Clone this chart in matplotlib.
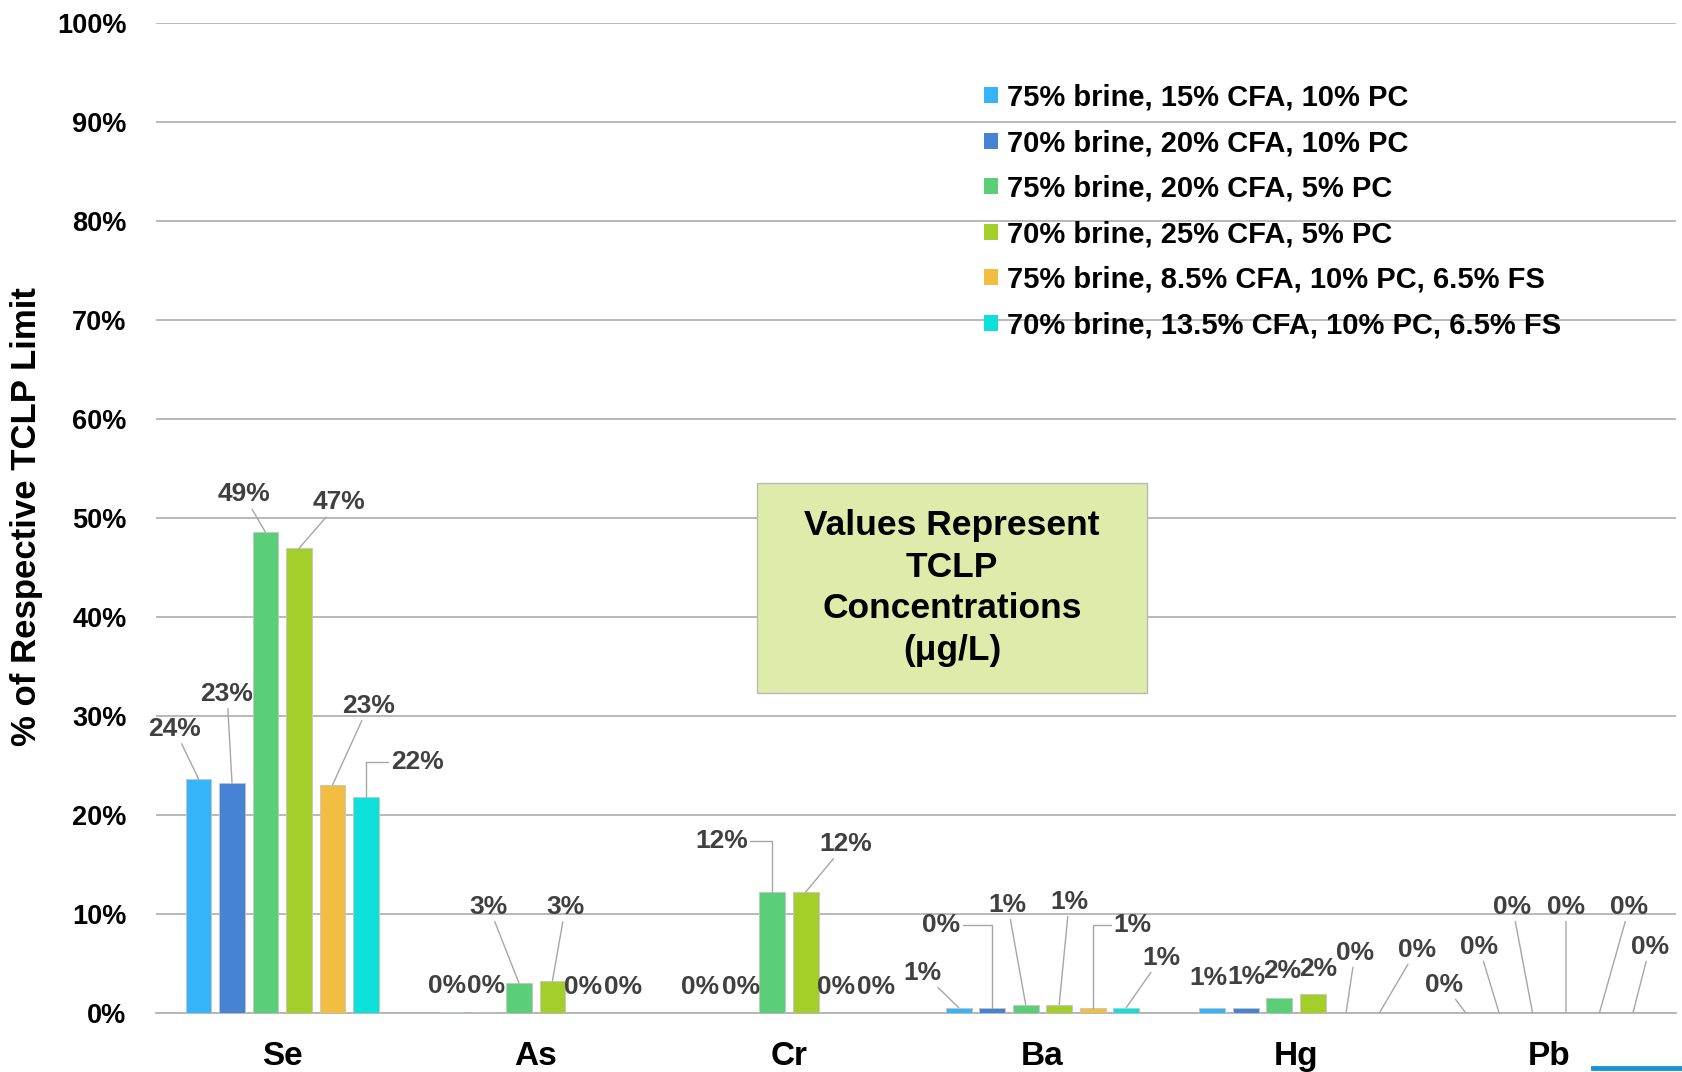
import math
import matplotlib
matplotlib.use("Agg")
import matplotlib.pyplot as plt
from matplotlib.patches import Rectangle
from matplotlib.lines import Line2D

# ---------------- data ----------------
categories = ["Se", "As", "Cr", "Ba", "Hg", "Pb"]
series_names = [
    "75% brine, 15% CFA, 10% PC",
    "70% brine, 20% CFA, 10% PC",
    "75% brine, 20% CFA, 5% PC",
    "70% brine, 25% CFA, 5% PC",
    "75% brine, 8.5% CFA, 10% PC, 6.5% FS",
    "70% brine, 13.5% CFA, 10% PC, 6.5% FS",
]
mix_1 = [23.6, 0.1, 0.0, 0.5, 0.5, 0.0]
mix_2 = [23.2, 0.1, 0.0, 0.45, 0.5, 0.0]
mix_3 = [48.5, 3.0, 12.2, 0.8, 1.5, 0.0]
mix_4 = [46.9, 3.2, 12.2, 0.8, 1.9, 0.0]
mix_5 = [23.0, 0.0, 0.0, 0.5, 0.0, 0.0]
mix_6 = [21.8, 0.0, 0.0, 0.5, 0.0, 0.0]
series_values = [mix_1, mix_2, mix_3, mix_4, mix_5, mix_6]
y_ticks = [0, 10, 20, 30, 40, 50, 60, 70, 80, 90, 100]
note_text = "Values Represent\nTCLP\nConcentrations\n(μg/L)"
y_title = "% of Respective TCLP Limit"

# ---------------- style ----------------
colors = ["#35B4F9", "#4683D4", "#5BCF78", "#A4CE2A", "#F2BE42", "#0CE0D8"]
FONT = "Liberation Sans"
plt.rcParams["font.family"] = [FONT, "DejaVu Sans"]

# label offsets in pixels (dx, dy) relative to each bar top, per series then category
label_offsets = [
    [(-24, 50), (-5, 26), (-5, 26), (-36, 35), (-4, 30), (-21, 28)],
    [(-5, 89), (1, 26), (2, 26), (-51, 83), (1, 31), (-20, 66)],
    [(-22, 38), (-30, 76), (-51, 51), (-18, 100), (3, 27), (-20, 106)],
    [(40, 46), (13, 74), (40, 48), (10, 103), (6, 25), (0, 106)],
    [(36, 79), (-3, 26), (-3, 26), (40, 83), (9, 60), (30, 106)],
    [(51, 35), (4, 26), (3, 26), (35, 50), (37, 63), (17, 66)],
]
elbows = {(5, 0), (2, 2), (1, 3), (4, 3)}

fig = plt.figure(figsize=(16.82, 10.72), dpi=100)
ax = fig.add_axes([0.0925, 0.0554, 0.9039, 0.9236])
ax.set_xlim(-0.5, len(categories) - 0.5)
ax.set_ylim(0, 100)

slot = 0.1322
width = 0.102
n = len(series_values)
for i, vals in enumerate(series_values):
    xs = [c + (i - (n - 1) / 2) * slot for c in range(len(categories))]
    ax.bar(xs, vals, width=width, color=colors[i], edgecolor="#C4C4C4",
           linewidth=0.6, zorder=3, label=series_names[i])
    for c, (x, v) in enumerate(zip(xs, vals)):
        dx, dy = label_offsets[i][c]
        txt = f"{math.floor(v + 0.5)}%"
        kw = dict(textcoords="offset pixels", ha="center", va="center",
                  fontsize=19, fontweight="bold", color="#404040", zorder=6)
        show_line = not (dy <= 31 and abs(dx) < 7)
        if show_line:
            cs = "angle,angleA=0,angleB=90,rad=0" if (i, c) in elbows else "arc3"
            kw["arrowprops"] = dict(arrowstyle="-", color="#A6A6A6", lw=1.0,
                                    shrinkA=0, shrinkB=0, connectionstyle=cs)
        ax.annotate(txt, xy=(x, v), xytext=(dx, dy), **kw)

# axes styling
ax.set_yticks(y_ticks)
ax.set_yticklabels([f"{t}%" for t in y_ticks], fontsize=19.5, fontweight="bold", color="#000000")
ax.set_xticks(range(len(categories)))
ax.set_xticklabels(categories, fontsize=24, fontweight="bold", color="#000000")
ax.tick_params(axis="y", length=0, pad=21)
ax.tick_params(axis="x", length=0, pad=20.5)
ax.yaxis.grid(True, color="#B3B3B3", linewidth=1.3)
ax.set_axisbelow(True)
for s in ["left", "right", "top"]:
    ax.spines[s].set_visible(False)
ax.spines["bottom"].set_color("#B3B3B3")
ax.spines["bottom"].set_linewidth(1.3)

fig.text(0.016, 0.518, y_title, rotation=90, ha="center", va="center",
         fontsize=25, fontweight="bold", color="#000000")

leg = ax.legend(loc="upper left", bbox_to_anchor=(0.585, 0.922),
                bbox_transform=fig.transFigure, frameon=False,
                prop={"weight": "bold", "size": 21},
                handlelength=0.48, handleheight=0.48, handletextpad=0.3,
                labelspacing=0.6, borderpad=0, borderaxespad=0)
for h in leg.legend_handles:
    h.set_edgecolor("none")

# note box
ax.add_patch(Rectangle((0.450, 0.3535), 0.232, 0.196, transform=fig.transFigure,
                       facecolor="#DEEBAA", edgecolor="#B8B8B8", linewidth=1.0,
                       zorder=7, clip_on=False))
ax.text(0.566, 0.4515, note_text, transform=fig.transFigure, ha="center", va="center",
        fontsize=25.5, fontweight="bold", color="#000000", linespacing=1.34, zorder=8)

fig.add_artist(Line2D([0.947, 1.0], [0.0037, 0.0037], transform=fig.transFigure,
                      color="#1C92D2", linewidth=3.5))

fig.savefig("out.png", dpi=100)
